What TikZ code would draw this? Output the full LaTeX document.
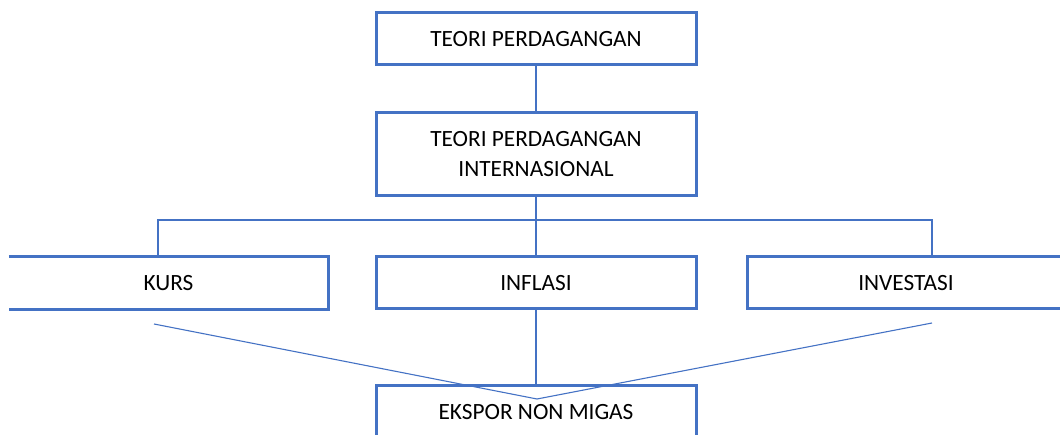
\documentclass[tikz,border=0pt]{standalone}
\usepackage{fontspec}
\setmainfont{Carlito}
\definecolor{boxblue}{HTML}{4472C4}
\begin{document}
\begin{tikzpicture}[x=1pt, y=-1pt,
    every node/.style={font=\fontsize{23.3}{30}\selectfont, inner sep=0pt, align=center},
    kotak/.style={draw=boxblue, line width=3pt, minimum width=320pt, minimum height=52pt},
    garis/.style={draw=boxblue, line width=2.2pt},
    tipis/.style={draw=boxblue, line width=1.1pt}]
  \useasboundingbox (0,0) rectangle (1060,435);
  \clip (0,0) rectangle (1060,435);
    \node [kotak] (teori) at (536,39) {TEORI PERDAGANGAN};
    \node [kotak, minimum height=83pt] (teoriint) at (536,154.5) {TEORI PERDAGANGAN\\ INTERNASIONAL};
    \node [minimum width=319pt, minimum height=52pt] (kurs) at (168.5,283) {KURS};
    \node [kotak] (inflasi) at (536,283) {INFLASI};
    \node [kotak, minimum width=318pt] (investasi) at (906,283) {INVESTASI};
    \node [kotak] (ekspor) at (536,412) {EKSPOR NON MIGAS};
  % kurs box is open on its left side
  \draw [garis, line width=3pt] (kurs.north west) -- (kurs.north east) -- (kurs.south east) -- (kurs.south west);
  \coordinate (kursTop) at (158,257);
  \coordinate (investTop) at (932,257);
  \coordinate (bar) at (536,220);
  \coordinate (kursFoot) at (154,324);
  \coordinate (investFoot) at (932,323);
  \coordinate (apex) at (537,399);
    \draw [garis] (teori) -- (teoriint);
    \draw [garis] (teoriint) -- (inflasi);
    \draw [garis] (kursTop) |- (bar) -| (investTop);
    \draw [garis] (inflasi) -- (ekspor);
    \draw [tipis] (kursFoot) -- (apex);
    \draw [tipis] (investFoot) -- (apex);
\end{tikzpicture}
\end{document}
